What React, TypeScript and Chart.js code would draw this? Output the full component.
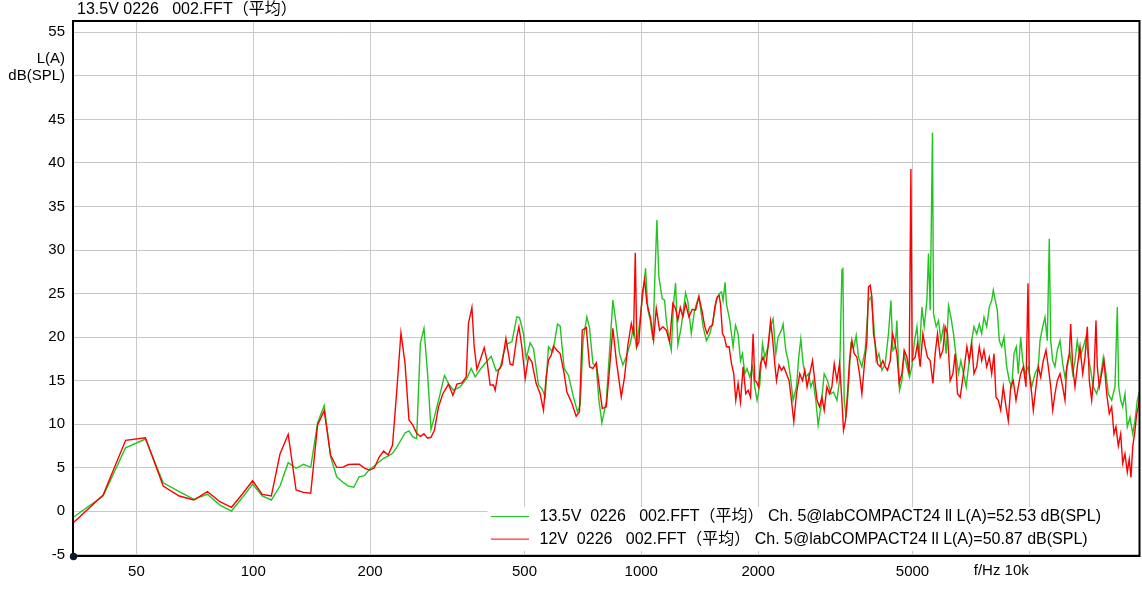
import React, { useEffect, useRef } from 'react';
import { Chart, registerables } from 'chart.js';

Chart.register(...registerables);

const FONT = "'Liberation Sans', Arial, 'Noto Sans CJK SC', sans-serif";

const titleText = '13.5V 0226   002.FFT（平均）';
const seriesLabels = [
  '13.5V  0226   002.FFT（平均） Ch. 5@labCOMPACT24 ll L(A)=52.53 dB(SPL)',
  '12V  0226   002.FFT（平均） Ch. 5@labCOMPACT24 ll L(A)=50.87 dB(SPL)',
];
const seriesColors = ['#22c422', '#ff0000'];

const xMin = 34.31;
const xMax = 19232;
const yMin = -5.13;
const yMax = 56.3;

const xTicks = [50, 100, 200, 500, 1000, 2000, 5000, 10000];
const xTickLabels = ['50', '100', '200', '500', '1000', '2000', '5000', ''];
const xAxisName = 'f/Hz 10k';
const yTicks = [-5, 0, 5, 10, 15, 20, 25, 30, 35, 40, 45, 50, 55];
const yTickLabels: (string | string[])[] = ['-5', '0', '5', '10', '15', '20', '25', '30', '35', '40', '45', ['L(A)', 'dB(SPL)', ''], '55'];

// 13.5V series (green)
const greenFreq = [
  29.30, 35.16, 41.02, 46.88, 52.73, 58.59, 64.45, 70.31, 76.17, 82.03, 87.89, 93.75, 99.61, 105.47, 111.33,
  117.19, 123.05, 128.91, 134.77, 140.63, 146.48, 152.34, 158.20, 164.06, 169.92, 175.78, 181.64, 187.50,
  193.36, 199.22, 205.08, 210.94, 216.80, 222.66, 228.52, 234.38, 240.23, 246.09, 251.95, 257.81, 263.67,
  269.53, 275.39, 281.25, 287.11, 292.97,
  303.2, 311.0, 318.5, 328.1, 341.4, 355.3, 364.4, 373.2, 384.4, 396.0, 410.4, 422.7, 432.9, 441.4, 450.4,
  464.0, 477.9, 485.4, 497.0, 505.1, 517.2, 527.4, 543.3, 554.4, 565.4, 576.5, 591.8, 608.2, 618.0, 632.8,
  649.2, 668.7, 684.8, 695.9, 708, 724.1, 735.8, 750.4, 765.7, 777.5, 791.5, 812.4, 844.9, 858.6, 879.2,
  896.6, 914.8, 936.8, 955.3, 970.8, 990, 1009.5, 1025.8, 1040, 1054.9, 1071.2, 1082.1, 1097, 1110.1,
  1132.7, 1148.3, 1160, 1177.9, 1194.9, 1211.3, 1225.7, 1242.6, 1268, 1300.7, 1318.5, 1345.6, 1372, 1407.5,
  1443, 1472, 1502, 1531, 1562, 1587, 1610, 1625, 1644, 1658, 1691, 1724, 1749, 1776, 1802, 1823, 1848,
  1873, 1904, 1935, 1961, 1988, 2020, 2053, 2081, 2122, 2153, 2186, 2222, 2252, 2298, 2320, 2357, 2390,
  2424, 2462, 2512, 2546, 2577, 2613, 2654, 2697, 2734, 2772, 2817, 2856, 2904, 2961, 3020, 3081, 3129,
  3193, 3242, 3289, 3308, 3334, 3374, 3420, 3469, 3523, 3580, 3629, 3703, 3776, 3851, 3906, 3967, 4031,
  4096, 4170, 4252, 4336, 4399, 4451, 4512, 4558, 4629, 4695, 4760, 4837, 4912, 4982, 5050, 5133, 5203,
  5287, 5360, 5446, 5498, 5554, 5630, 5664, 5755, 5834, 5918, 6010, 6107, 6191, 6280, 6377, 6480, 6569,
  6664, 6767, 6876, 6971, 7105, 7202, 7319, 7433, 7539, 7643, 7766, 7887, 8000, 8077, 8173, 8271, 8369,
  8489, 8606, 8745, 8881, 9009, 9132, 9258, 9367, 9502, 9616, 9748, 9941, 10143, 10344, 10549, 10656,
  10828, 10977, 11127, 11260, 11354, 11490, 11647, 11808, 11998, 12192, 12359, 12529, 12732, 12937, 13115,
  13295, 13510, 13777, 14000, 14192, 14395, 14620, 14918, 15212, 15513, 15764, 15980, 16306, 16628, 16858,
  16998, 17201, 17406, 17646, 17888, 18177, 18471, 18724, 18982, 19208, 19400,
];
const greenLevel = [
  -2.9, -0.37, 1.76, 7.30, 8.30, 3.28, 2.27, 1.38, 1.95, 0.72, 0.03, 1.58, 3.13, 1.76, 1.30,
  2.90, 5.58, 4.94, 5.40, 5.05, 10.17, 12.13, 6.27, 3.97, 3.36, 2.90, 2.76, 3.97,
  4.09, 4.80, 5.20, 5.66, 6.09, 6.35, 6.66, 7.38, 8.19, 9.0, 9.23, 8.54, 8.35,
  19.3, 21.0, 15.9, 9.4, 10.84,
  13.5, 15.6, 14.67, 13.9, 14.3, 15.25, 16.4, 15.44, 16.28, 17.0, 17.8, 16.13, 16.4, 18.12, 19.2,
  19.46, 22.34, 22.26, 20.42, 17.55, 19.35, 18.7, 14.48, 14.1, 13.14, 18.9, 18.3, 21.5, 21.26, 16.4,
  15.6, 13.14, 11.42, 12.2, 19.65, 22.34, 21.0, 17.0, 16.6, 12.8, 10.15, 12.57, 24.25, 21.95, 18.1,
  16.8, 17.74, 19.27, 21.2, 18.9, 21.57, 25.0, 27.9, 23.1, 21.95, 19.65, 25.8, 33.45, 26.9,
  24.4, 24.25, 21.95, 19.85, 18.5, 23.87, 26.2, 19.1, 21.2, 25.1, 24.06, 20.4, 23.1, 24.7,
  21.2, 19.6, 20.4, 21.9, 24.2, 25.0, 25.2, 24.2, 26.3, 23.8, 21.9, 18.9, 21.35, 20.4, 17.3, 18.1, 15.8,
  16.4, 15.4, 16.6, 14.3, 12.75, 14.5, 19.25, 17.7, 18.9, 21.2, 22.1, 18.1, 20.0, 20.8, 21.5, 18.5, 17.3,
  15.4, 12.75, 14.3, 17.7, 19.8, 16.9, 15.4, 15.8, 14.3, 15.0, 12.75, 9.9, 12.0, 15.8, 15.0, 13.5, 13.7,
  12.75, 15.0, 27.7, 27.85, 12.75, 10.8, 14.3, 19.25, 18.7, 20.2, 17.7, 16.6, 18.5, 24.2, 24.6, 21.9, 17.3,
  18.1, 16.2, 16.95, 20.4, 24.2, 18.5, 18.9, 21.9, 13.9, 15.0, 18.1, 16.6, 15.4, 16.6, 19.25, 21.2, 17.7,
  23.45, 21.2, 24.2, 29.6, 23.1, 43.5, 22.7, 21.2, 21.9, 19.6, 21.2, 18.1, 23.6, 22.3, 20.4, 17.7, 15.8,
  17.3, 15.8, 14.3, 16.6, 19.6, 21.2, 20.4, 21.5, 20.4, 22.3, 21.2, 23.45, 24.2, 25.4, 24.2, 23.1, 19.6,
  18.9, 20.0, 16.6, 15.0, 14.3, 18.1, 18.9, 15.8, 20.0, 17.3, 15.8, 16.6, 14.3, 15.8, 16.6, 19.6,
  21.2, 22.3, 19.6, 31.3, 19.6, 17.3, 16.6, 18.5, 19.6, 16.95, 15.4, 16.6, 18.1, 15.8, 17.3,
  19.6, 17.7, 18.9, 20.0, 17.7, 16.2, 14.3, 13.5, 15.0, 17.7, 15.8, 13.5, 12.75, 14.3, 23.45,
  14.3, 12.75, 12.0, 13.5, 9.7, 10.8, 8.9, 10.4, 12.75, 13.7, 13.9,
];

// 12V series (red)
const redFreq = [
  29.30, 35.16, 41.02, 46.88, 52.73, 58.59, 64.45, 70.31, 76.17, 82.03, 87.89, 93.75, 99.61, 105.47, 111.33,
  117.19, 123.05, 128.91, 134.77, 140.63, 146.48, 152.34, 158.20, 164.06, 169.92, 175.78, 181.64, 187.50,
  193.36, 199.22, 205.08, 210.94, 216.80, 222.66, 228.52, 234.38, 240.23, 246.09, 251.95, 257.81, 263.67,
  269.53, 275.39, 281.25, 287.11, 292.97,
  300.2, 308.1, 318.5, 327.0, 334.8, 344.9, 353.8, 358.6, 366.0, 371.0, 377.0, 384.4, 393.7, 400.0, 407.9,
  416.0, 420.2, 428.5, 437.2, 447.8, 459.3, 466.7, 477.9, 483.7, 492.3, 502.1, 512.0, 522.4, 535.9, 548.8,
  559.7, 568.7, 576.5, 585.9, 593.9, 606.0, 618.0, 632.8, 643.1, 662.4, 679.5, 693.0, 704.6, 721.5, 735.8,
  750.4, 765.7, 777.5, 793.4, 812.4, 831.9, 844.9, 862.1, 888.1, 905.7, 923.6, 942.4, 955.3, 965.0, 974.2,
  985.9, 1006, 1019.8, 1033.8, 1054.9, 1075.7, 1093.1, 1114.7, 1136.8, 1160, 1182.9, 1206.2, 1225.7, 1242.6,
  1260.4, 1280.1, 1300.7, 1326.4, 1353.4, 1380.2, 1407.5, 1434.5, 1457.6, 1477.8, 1502, 1525.8, 1546.8,
  1568, 1587, 1600, 1619, 1638, 1658, 1684, 1708, 1731, 1752, 1776, 1802, 1830, 1859, 1885, 1912, 1942,
  1961, 1981, 2005, 2029, 2060, 2094, 2122, 2153, 2178, 2208, 2231, 2265, 2298, 2329, 2367, 2404, 2438,
  2472, 2512, 2561, 2603, 2639, 2675, 2718, 2762, 2800, 2838, 2880, 2921, 2961, 3009, 3055, 3099, 3142,
  3193, 3242, 3289, 3320, 3360, 3400, 3441, 3490, 3538, 3595, 3651, 3703, 3754, 3815, 3851, 3890, 3930,
  3967, 4007, 4062, 4128, 4195, 4252, 4311, 4381, 4441, 4493, 4558, 4621, 4695, 4760, 4837, 4903, 4953,
  4991, 5080, 5150, 5234, 5318, 5391, 5465, 5554, 5643, 5721, 5800, 5893, 5989, 6070, 6154, 6253, 6354,
  6442, 6531, 6636, 6767, 6905, 7003, 7105, 7202, 7319, 7433, 7539, 7643, 7766, 7887, 8000, 8110, 8207,
  8319, 8439, 8570, 8709, 8828, 8955, 9094, 9241, 9367, 9502, 9650, 9806, 9923, 10000, 10143, 10240,
  10406, 10549, 10700, 10866, 11042, 11193, 11354, 11490, 11647, 11808, 11998, 12192, 12359, 12485, 12680,
  12785, 12937, 13115, 13295, 13510, 13729, 13917, 14109, 14279, 14482, 14680, 14856, 14971, 15150, 15367,
  15578, 15830, 16075, 16306, 16530, 16727, 16958, 17201, 17406, 17646, 17888, 18100, 18284, 18471, 18724,
  18914, 19095, 19289, 19520,
];
const redLevel = [
  -4.1, -0.90, 1.87, 8.15, 8.45, 2.90, 1.76, 1.30, 2.25, 1.10, 0.46, 1.99, 3.51, 1.95, 1.76,
  6.58, 8.84, 2.45, 2.18, 2.07, 9.91, 11.55, 6.46, 5.05, 5.05, 5.37, 5.40, 5.40,
  4.97, 4.74, 4.97, 6.20, 6.92, 6.46, 7.6, 13.9, 20.5, 17.0, 10.5, 9.9, 8.96,
  8.6, 8.9, 8.4, 8.5, 9.3,
  12.0, 13.5, 14.6, 13.33, 14.6, 14.75, 15.44, 21.57, 23.4, 18.9, 16.3, 17.36, 18.8, 17.36, 14.5,
  14.5, 13.9, 16.2, 16.8, 19.85, 16.9, 16.8, 20.04, 21.2, 18.9, 15.25, 17.74, 17.17, 14.67, 13.5,
  11.6, 15.44, 17.36, 17.93, 18.97, 18.5, 18.12, 15.8, 13.7, 12.4, 10.92, 11.42, 20.8, 21.1, 16.6,
  16.4, 17.05, 14.67, 11.8, 12.0, 17.36, 21.0, 17.36, 13.14, 15.44, 19.1, 21.57, 20.4, 29.7, 18.9,
  19.46, 25.0, 26.55, 23.87, 22.34, 19.65, 23.3, 20.8, 21.2, 20.8, 19.46, 23.87, 23.3, 21.95,
  23.4, 22.34, 23.87, 22.34, 23.2, 23.1, 24.64, 23.0, 21.2, 20.4, 21.2, 21.35, 23.45,
  24.6, 24.8, 23.8, 20.4, 20.0, 18.9, 18.9, 16.95, 15.8, 12.75, 14.7, 12.55, 16.6, 13.5, 13.9, 13.1, 20.4,
  15.0, 14.85, 14.3, 16.95, 17.7, 16.6, 18.9, 21.8, 20.0, 16.95, 15.0, 16.8, 16.2, 16.6, 15.8, 15.0, 12.75,
  10.3, 13.5, 15.8, 15.0, 16.2, 14.3, 15.8, 17.3, 15.0, 12.75, 12.0, 13.1, 11.6, 14.3, 13.5, 14.3, 16.95,
  15.0, 16.95, 12.75, 9.3, 10.4, 13.5, 17.3, 19.6, 18.1, 17.7, 15.8, 13.5, 16.6, 19.6, 25.75, 25.95, 24.6,
  20.4, 19.25, 16.95, 16.6, 17.3, 16.6, 16.2, 17.3, 20.4, 19.6, 18.1, 14.7, 15.8, 18.5, 17.7, 15.8, 39.3,
  17.3, 17.7, 19.25, 16.6, 20.4, 18.9, 17.7, 17.3, 14.7, 18.1, 20.4, 17.7, 18.5, 21.2, 20.4, 15.0, 15.8,
  18.1, 13.5, 13.1, 15.8, 18.9, 17.3, 19.25, 15.8, 16.6, 18.9, 17.3, 18.5, 16.6, 17.7, 15.8, 18.1, 13.1,
  12.75, 11.6, 14.3, 12.0, 10.4, 14.3, 15.0, 12.75, 14.3, 15.8, 16.6, 14.3, 26.2, 15.8, 13.5, 11.6,
  14.3, 16.6, 15.4, 17.3, 18.5, 16.6, 14.3, 11.6, 13.5, 15.0, 15.8, 14.3, 12.75, 16.6, 18.1,
  21.5, 16.6, 14.3, 16.6, 18.9, 15.8, 17.7, 21.2, 15.0, 12.75, 15.8, 21.9, 16.6, 14.3, 15.8,
  17.3, 13.5, 11.2, 12.0, 8.9, 9.7, 7.5, 8.9, 5.5, 6.6, 4.5, 6.0, 3.9, 7.4, 9.3,
  11.2, 12.0, 13.5, 14.0,
];

const toPoints = (fs: number[], vs: number[]) => fs.map((f, i) => ({ x: f, y: vs[i] }));

const overlayPlugin = {
  id: 'overlay',
  afterDatasetsDraw(chart: any) {
    const { ctx, chartArea: a } = chart;
    const boxW = 652;
    const boxH = 44;
    const bx = a.right - boxW;
    const by = a.bottom - 49;
    ctx.save();
    ctx.fillStyle = '#ffffff';
    ctx.fillRect(bx, by, boxW, boxH);
    ctx.font = `16px ${FONT}`;
    ctx.textBaseline = 'middle';
    ctx.textAlign = 'left';
    seriesLabels.forEach((label, i) => {
      const y = by + 9 + i * 22.6;
      ctx.strokeStyle = seriesColors[i];
      ctx.lineWidth = 1;
      ctx.beginPath();
      ctx.moveTo(bx + 3.5, y + 0.5);
      ctx.lineTo(bx + 41.5, y + 0.5);
      ctx.stroke();
      ctx.fillStyle = '#000000';
      ctx.fillText(label, bx + 52, y + 1);
    });
    ctx.restore();
  },
  afterDraw(chart: any) {
    const { ctx, chartArea: a, scales } = chart;
    ctx.save();
    ctx.strokeStyle = '#000000';
    ctx.lineWidth = 2;
    ctx.strokeRect(a.left, a.top, a.right - a.left, a.bottom - a.top);
    ctx.fillStyle = '#0b1930';
    ctx.beginPath();
    ctx.arc(a.left + 0.5, a.bottom + 0.5, 3.7, 0, Math.PI * 2);
    ctx.fill();
    ctx.fillStyle = '#000000';
    ctx.font = `16px ${FONT}`;
    ctx.textAlign = 'left';
    ctx.textBaseline = 'alphabetic';
    ctx.fillText(titleText, a.left + 4, 14);
    ctx.font = `15px ${FONT}`;
    ctx.textAlign = 'right';
    ctx.textBaseline = 'top';
    const x10k = scales.x.getPixelForValue(xTicks[xTicks.length - 1]);
    ctx.fillText(xAxisName, x10k - 0.5, a.bottom + 7);
    ctx.restore();
  },
};

export default function App() {
  const canvasRef = useRef<HTMLCanvasElement | null>(null);

  useEffect(() => {
    const canvas = canvasRef.current;
    if (!canvas) return;
    const chart = new Chart(canvas, {
      type: 'line',
      data: {
        datasets: [
          {
            label: seriesLabels[1],
            data: toPoints(redFreq, redLevel),
            borderColor: seriesColors[1],
            borderWidth: 1.4,
            pointRadius: 0,
            tension: 0,
            order: 0,
          },
          {
            label: seriesLabels[0],
            data: toPoints(greenFreq, greenLevel),
            borderColor: seriesColors[0],
            borderWidth: 1.4,
            pointRadius: 0,
            tension: 0,
            order: 1,
          },
        ],
      },
      options: {
        animation: false,
        responsive: false,
        maintainAspectRatio: false,
        devicePixelRatio: 1,
        layout: { padding: { left: 0, top: 21, right: 2.5, bottom: 0 } },
        plugins: {
          legend: { display: false },
          tooltip: { enabled: false },
          title: { display: false },
        },
        scales: {
          x: {
            type: 'logarithmic',
            min: xMin,
            max: xMax,
            afterBuildTicks: (scale: any) => {
              scale.ticks = xTicks.map((v) => ({ value: v }));
            },
            afterFit: (scale: any) => {
              scale.height = 34;
            },
            grid: { color: '#c8c8c8', lineWidth: 1, drawTicks: false },
            border: { display: false },
            ticks: {
              autoSkip: false,
              maxRotation: 0,
              minRotation: 0,
              padding: 7,
              color: '#000000',
              font: { family: FONT, size: 15 },
              callback: (_v: any, i: number) => xTickLabels[i],
            },
          },
          y: {
            type: 'linear',
            min: yMin,
            max: yMax,
            afterBuildTicks: (scale: any) => {
              scale.ticks = yTicks.map((v) => ({ value: v }));
            },
            afterFit: (scale: any) => {
              scale.width = 73;
            },
            grid: { color: '#c8c8c8', lineWidth: 1, drawTicks: false },
            border: { display: false },
            ticks: {
              autoSkip: false,
              padding: 8,
              color: '#000000',
              font: { family: FONT, size: 15, lineHeight: 1.15 },
              callback: (_v: any, i: number) => yTickLabels[i],
            },
          },
        },
      },
      plugins: [overlayPlugin],
    });
    return () => chart.destroy();
  }, []);

  return (
    <div style={{ position: 'fixed', left: 0, top: 0, width: 1142, height: 590, background: '#ffffff' }}>
      <canvas ref={canvasRef} width={1142} height={590} style={{ display: 'block' }} />
    </div>
  );
}
